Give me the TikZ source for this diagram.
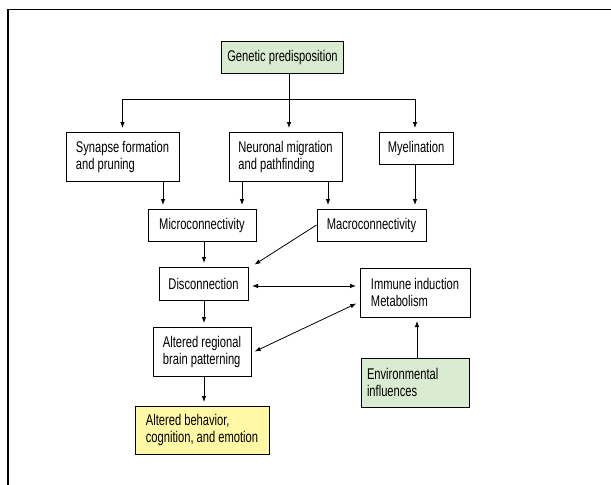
\documentclass[tikz,border=0pt]{standalone}
\usepackage{fontspec}
\setmainfont{Liberation Sans}[FakeStretch=0.72]
\usepackage{tikz}
\usetikzlibrary{positioning}
\usetikzlibrary{arrows.meta}
\definecolor{genegreen}{RGB}{217,235,208}
\definecolor{outyellow}{RGB}{255,249,165}
\tikzset{factor/.style={rectangle,draw=black,fill=white,line width=1pt,inner xsep=6pt,inner ysep=3pt,align=left,font=\fontsize{15.5}{17}\selectfont}}
\tikzset{link/.style={draw=black,->,>={Latex[length=6pt,width=4.5pt]},line width=0.8pt,shorten >=3.5pt}}
\tikzset{links/.style={every edge/.style=link}}

\begin{document}
\begin{tikzpicture}[x=1pt,y=-1pt]
  \useasboundingbox (0,0) rectangle (611,485);
  \draw [line width=1.3pt] (8,485) -- (8,9.5) -- (611,9.5);

  \node [factor,fill=genegreen,minimum width=121pt,minimum height=32pt] (gene) at (282.5,57) {Genetic predisposition};
  \node [factor,minimum width=113pt,minimum height=49pt] (syn) at (122.5,156.5) {Synapse formation\\and pruning};
  \node [factor,minimum width=113pt,minimum height=49pt] (neur) at (285.5,156.5) {Neuronal migration\\and pathfinding};
  \node [factor,minimum width=74pt,minimum height=32pt] (myel) at (416,148) {Myelination};
  \node [factor,minimum width=108pt,minimum height=32pt] (micro) at (202,225) {Microconnectivity};
  \node [factor,minimum width=109pt,minimum height=32pt] (macro) at (371.5,225) {Macroconnectivity};
  \node [factor,minimum width=89pt,minimum height=33pt] (disc) at (203.5,283.5) {Disconnection};
  \node [factor,minimum width=110pt,minimum height=49pt] (immune) at (415,292.5) {Immune induction\\Metabolism};
  \node [factor,minimum width=98pt,minimum height=49pt] (pattern) at (202,351.5) {Altered regional\\brain patterning};
  \node [factor,fill=genegreen,text width=96pt,minimum height=49pt] (env) at (415,382.5) {Environmental\\influences};
  \node [factor,fill=outyellow,minimum width=134pt,minimum height=48pt] (behav) at (202,430) {Altered behavior,\\cognition, and emotion};

  \coordinate (split) at (289,99.5);
  \draw [line width=0.8pt] (gene.south -| split) -- (split);
  \draw [link] (split) -- (split |- neur.north);
  \draw [link] (split) -| (syn.north);
  \draw [link] (split) -| ([xshift=-1pt]myel.north);
  \path [links]
  ([xshift=40.5pt]syn.south) edge ([xshift=40.5pt]syn.south |- micro.north)
  ([xshift=-43.5pt]neur.south) edge ([xshift=-43.5pt]neur.south |- micro.north)
  ([xshift=42.5pt]neur.south) edge ([xshift=42.5pt]neur.south |- macro.north)
  ([xshift=-1pt]myel.south) edge ([xshift=-1pt]myel.south |- macro.north)
  ([xshift=2pt]micro.south) edge ([xshift=2pt]micro.south |- disc.north)
  (macro.west) edge ([xshift=3pt]disc.north east)
  ([xshift=0.5pt]disc.south) edge ([xshift=0.5pt]disc.south |- pattern.north)
  ([xshift=2pt]pattern.south) edge ([xshift=2pt]pattern.south |- behav.north)
  ([xshift=2pt]env.north) edge ([xshift=2pt]env.north |- immune.south)
  ([yshift=-2.5pt]disc.east) edge [<->,shorten <=3.5pt] ([yshift=-2.5pt]disc.east -| immune.west)
  ([yshift=-1.5pt]pattern.east) edge [<->,shorten <=3.5pt] ([yshift=-9.5pt]immune.west);
\end{tikzpicture}
\end{document}
